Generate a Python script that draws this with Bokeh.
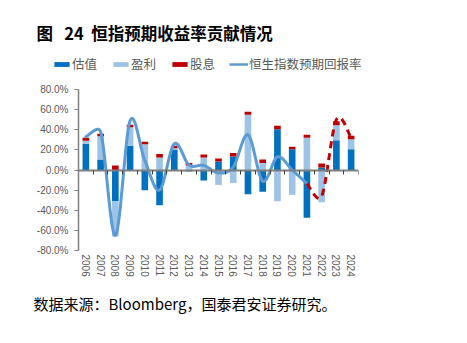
import math
import numpy as np
from bokeh.plotting import figure
from bokeh.layouts import column
from bokeh.models import (ColumnDataSource, Range1d, LinearAxis, FixedTicker, Title, Label,
                          Legend, LegendItem, PrintfTickFormatter)
from bokeh.embed import file_html
from bokeh.resources import INLINE

# ---------------- data ----------------
years = ["2006", "2007", "2008", "2009", "2010", "2011", "2012", "2013", "2014", "2015",
         "2016", "2017", "2018", "2019", "2020", "2021", "2022", "2023", "2024"]
valuation = [26, 10.5, -31, 24, -20, -35, 20, -1.5, -10.5, 8.5,
             13.5, -24, -21.5, 40.5, 20.5, -47.5, 2.5, 29.5, 20.5]
earnings = [3, 23, -35, 18.5, 25.5, 12.5, 1.5, 4.5, 12.5, -15,
            -13, 55, 7, -31, -24.5, 32, -32, 15, 10]
dividend = [3, 2.5, 4.5, 2.5, 2.5, 3.5, 2.5, 2.5, 3, 3,
            3.5, 3, 3.5, 3.5, 2.5, 3, 4, 4, 3.5]
# expected return of the Hang Seng index: realised 2006-2021, forecast 2021-2024
return_years_hist = years[:16]
return_hist = [33, 38, -65, 49, 9.5, -20, 26, 5, 4.5, -3, 3, 35, -11, 13, 0, -13.5]
return_years_fc = years[15:]
return_fc = [-13.5, -26, 50, 32]

series_names = ["估值", "盈利", "股息"]
line_name = "恒生指数预期回报率"
series_colors = ["#0070C0", "#9DC3E6", "#C00000"]
line_color = "#5B9BD5"
y_ticks = [-80, -60, -40, -20, 0, 20, 40, 60, 80]

TITLE = "图\u00a0\u00a0\u00a024\u00a0\u00a0恒指预期收益率贡献情况"
SOURCE = "数据来源：Bloomberg，国泰君安证券研究。"

# ---------------- layout constants ----------------
W = 467
HEAD_H = 80                      # header strip: title + legend
MAIN_H = 343 - HEAD_H
B_LEFT, B_RIGHT, B_TOP, B_BOTTOM = 78, 109, 9, 93
FRAME_W = W - B_LEFT - B_RIGHT
FRAME_H = MAIN_H - B_TOP - B_BOTTOM
XS = FRAME_W / len(years)        # px per category
YS = FRAME_H / 160.0             # px per percent
idx = {y: i for i, y in enumerate(years)}


def smooth(xs, ys, steps=24):
    """Excel-style smoothed line (Bezier, control arms 1/6 of chord, capped at half segment)."""
    P = np.column_stack([np.asarray(xs, float) * XS, np.asarray(ys, float) * YS])
    n = len(P)
    out = []
    t = np.linspace(0, 1, steps)[:, None]
    for i in range(n - 1):
        p0 = P[i - 1] if i > 0 else P[i]
        p1 = P[i]
        p2 = P[i + 1]
        p3 = P[i + 2] if i + 2 < n else P[i + 1]
        d12 = np.hypot(*(p2 - p1))
        v = p2 - p0
        w = p3 - p1
        f1 = 1 / 6
        f2 = 1 / 6
        dv = np.hypot(*v)
        dw = np.hypot(*w)
        if dv > 0 and dv * f1 > d12 / 2:
            f1 = d12 / (2 * dv)
        if dw > 0 and dw * f2 > d12 / 2:
            f2 = d12 / (2 * dw)
        c1 = p1 + f1 * v
        c2 = p2 - f2 * w
        seg = ((1 - t) ** 3) * p1 + 3 * ((1 - t) ** 2) * t * c1 + 3 * (1 - t) * t ** 2 * c2 + t ** 3 * p2
        out.append(seg if i == 0 else seg[1:])
    arr = np.vstack(out)
    return arr[:, 0] / XS, arr[:, 1] / YS


# ---------------- header (title + legend) ----------------
hp = figure(width=W, height=HEAD_H, output_backend="svg", toolbar_location=None,
            x_range=Range1d(0, W), y_range=Range1d(HEAD_H, 0),
            x_axis_type=None, y_axis_type=None, min_border=0, frame_align=False,
            outline_line_color=None, background_fill_color="white", border_fill_color="white")
hp.grid.visible = False
# legend proxies (no visible marks of their own)
nan_src = ColumnDataSource(dict(x=[np.nan], y=[np.nan]))
legend_bars = [hp.vbar(x="x", top="y", width=1, source=nan_src, fill_color=c, line_color=None)
               for c in series_colors]
legend_line = hp.line(x="x", y="y", source=nan_src, line_color=line_color, line_width=2.5)
legend = Legend(items=[LegendItem(label=series_names[0], renderers=[legend_bars[0]]),
                       LegendItem(label=series_names[1], renderers=[legend_bars[1]]),
                       LegendItem(label=series_names[2], renderers=[legend_bars[2]]),
                       LegendItem(label=line_name, renderers=[legend_line])],
                orientation="horizontal", location=(52, 7), glyph_width=19, glyph_height=6,
                label_standoff=1, spacing=14, padding=0, margin=0, border_line_color=None,
                background_fill_alpha=0, label_text_font="Noto Sans CJK SC",
                label_text_font_size="12.5px", label_text_color="#595959", label_height=14)
hp.add_layout(legend, "center")
hp.add_layout(Label(x=36, y=32, text=TITLE, text_baseline="middle",
                    text_font="Noto Sans CJK SC", text_font_style="bold",
                    text_font_size="16.5px", text_color="black"))

# ---------------- main chart ----------------
p = figure(width=W, height=MAIN_H, output_backend="svg", toolbar_location=None,
           x_range=Range1d(-0.5, len(years) - 0.5), y_range=Range1d(-80, 80),
           min_border_left=B_LEFT, min_border_right=B_RIGHT,
           min_border_top=B_TOP, min_border_bottom=B_BOTTOM, frame_align=False,
           outline_line_color=None, background_fill_color="white", border_fill_color="white")
p.grid.visible = False

x = np.arange(len(years))
pos_base = np.zeros(len(years))
neg_base = np.zeros(len(years))
for name, vals, col in zip(series_names, [valuation, earnings, dividend], series_colors):
    v = np.asarray(vals, float)
    bottom = np.where(v >= 0, pos_base, neg_base)
    top = bottom + v
    pos_base = np.where(v >= 0, top, pos_base)
    neg_base = np.where(v < 0, top, neg_base)
    src = ColumnDataSource(dict(x=x, bottom=bottom, top=top))
    p.vbar(x="x", bottom="bottom", top="top", width=0.45, source=src,
           fill_color=col, line_color=None)

hx, hy = smooth([idx[y] for y in return_years_hist], return_hist)
p.line(hx, hy, line_color=line_color, line_width=3, line_cap="round", line_join="round")
fx, fy = smooth([idx[y] for y in return_years_fc], return_fc)
p.line(fx, fy, line_color="#C00000", line_width=3, line_dash="7 5")

# y axis
yax = p.yaxis[0]
yax.ticker = FixedTicker(ticks=y_ticks)
yax.formatter = PrintfTickFormatter(format="%.1f%%")
yax.axis_line_color = "#7F7F7F"
yax.axis_line_width = 1.5
yax.major_tick_line_color = "#7F7F7F"
yax.major_tick_in = 0
yax.major_tick_out = 4
yax.minor_tick_line_color = None
yax.major_label_text_font = "Liberation Sans"
yax.major_label_text_font_size = "10px"
yax.major_label_text_color = "#595959"
yax.major_label_standoff = 6

# x labels at the bottom
xax = p.xaxis[0]
xax.ticker = FixedTicker(ticks=list(range(len(years))))
xax.major_label_overrides = {i: y for i, y in enumerate(years)}
xax.axis_line_color = None
xax.major_tick_line_color = None
xax.minor_tick_line_color = None
xax.major_label_orientation = -math.pi / 2
xax.major_label_text_font = "Liberation Sans"
xax.major_label_text_font_size = "10px"
xax.major_label_text_color = "#595959"
xax.major_label_standoff = -2

# zero axis with category-boundary ticks
zax = LinearAxis(fixed_location=0,
                 ticker=FixedTicker(ticks=[i - 0.5 for i in range(len(years) + 1)]),
                 axis_line_color="#7F7F7F", axis_line_width=2,
                 major_tick_line_color="#404040", major_tick_in=0, major_tick_out=4,
                 minor_tick_line_color=None, major_label_text_font_size="0px",
                 major_label_text_alpha=0, major_label_standoff=0)
p.add_layout(zax, "below")

p.add_layout(Title(text=SOURCE, align="left", offset=33 - B_LEFT, standoff=23,
                   text_font="Noto Sans CJK SC", text_font_style="normal",
                   text_font_size="15px", text_color="black"), "below")

layout = column(hp, p, spacing=0)
open("out.html", "w").write(file_html(layout, INLINE))
